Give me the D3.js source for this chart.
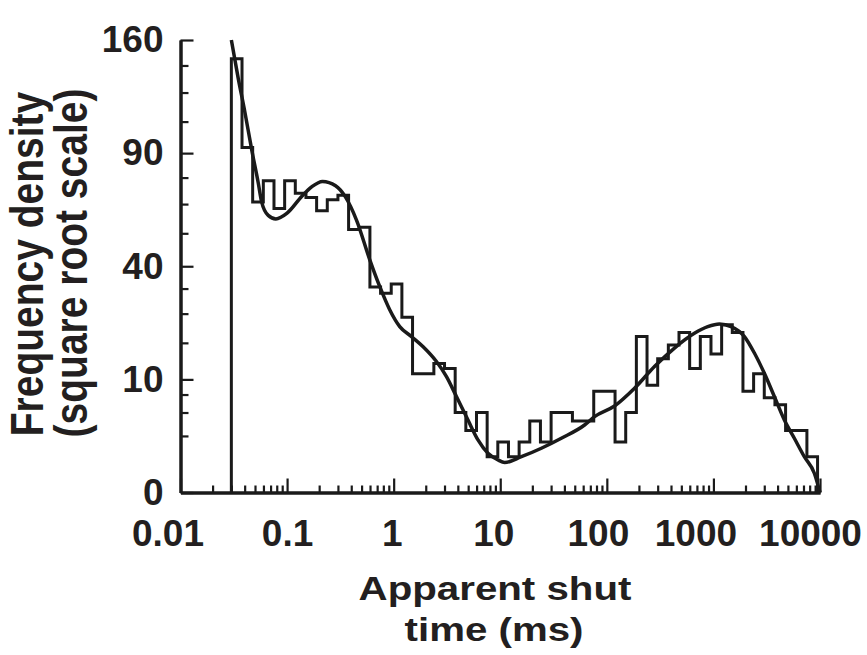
<!DOCTYPE html>
<html>
<head>
<meta charset="utf-8">
<script src="https://cdn.jsdelivr.net/npm/d3@7/dist/d3.min.js"></script>
<style>
  html, body { margin: 0; padding: 0; background: #ffffff; }
  svg { display: block; }
  text { font-family: "Liberation Sans", Arial, sans-serif; font-weight: bold; fill: #231f20; }
</style>
</head>
<body>
<svg id="chart" width="867" height="655"></svg>
<script>
// ---- data ----
const xTickValues = [0.01, 0.1, 1, 10, 100, 1000, 10000];
const xTickLabels = ["0.01", "0.1", "1", "10", "100", "1000", "10000"];
const yTickValues = [0, 10, 40, 90, 160];
const yTickLabels = ["0", "10", "40", "90", "160"];
const yMinorTicks = [2.5, 5, 7.5, 17.5, 25, 32.5, 52.5, 65, 77.5, 107.5, 125, 142.5];

// histogram: first bin starts at 0.03 ms, bins 0.1 log10 units wide
const binStart = 0.03;
const binLogWidth = 0.1;
const binValues = [147, 93, 66, 76, 63, 76, 70, 68, 62, 67,
                   69, 54, 55, 33, 31, 34, 24, 11, 11, 13,
                   12, 5, 3, 5, 1, 2, 1, 2, 4, 2,
                   5, 5, 4, 4, 8, 8, 2, 5, 19, 9,
                   14, 17, 20, 12, 19, 15, 22, 20, 8, 11,
                   7, 6, 3, 3, 1];

// fitted curve
const fitX = [0.03, 0.0348, 0.0402, 0.0465, 0.0536, 0.0577, 0.0665, 0.0785, 0.1, 0.137,
              0.17, 0.215, 0.285, 0.35, 0.448, 0.597, 0.741, 0.918, 1.14, 1.47,
              1.89, 2.52, 3.13, 3.88, 4.98, 6.18, 7.67, 9.51, 11, 15.8,
              24.3, 37.4, 61.8, 76.7, 118, 182, 280, 431, 663, 885,
              1138, 1466, 1954, 2423, 3006, 3730, 4632, 5745, 7129, 8846, 10000];
const fitY = [160, 134, 113, 92, 75, 66, 60, 58.5, 61, 68.5,
              73, 75.6, 73.5, 68.5, 58, 42.3, 33.1, 26.1, 21.5, 19.0,
              16.6, 13.4, 10.5, 7.2, 4.1, 2.16, 1.2, 0.83, 0.7, 1.0,
              1.53, 2.3, 3.56, 4.5, 5.85, 8.5, 12.4, 16.3, 19.8, 21.5,
              22.2, 21.5, 19.0, 15.2, 11.1, 7.2, 4.1, 2.3, 1.0, 0.29, 0];

const xTitle = ["Apparent shut", "time (ms)"];
const yTitle = ["Frequency density", "(square root scale)"];

// ---- layout (label nudges as in the original figure) ----
const xLabelNudge = [-13, 0, -2, -7, -9, -18, -10];

// ---- drawing ----
const svg = d3.select("#chart");
const ink = "#1a1a1a";

const x = d3.scaleLog().domain([0.01, 10000]).range([180.5, 820]);
const y = d3.scaleSqrt().domain([0, 160]).range([492.5, 40]);

// minor x ticks
const xMinor = [];
for (let e = -2; e < 4; e++) {
  for (let m = 2; m <= 9; m++) xMinor.push(m * Math.pow(10, e));
}

const gx = svg.append("g").attr("transform", `translate(0,${y(0)})`);
gx.call(d3.axisBottom(x).tickValues(xMinor).tickSize(-7).tickSizeOuter(0).tickFormat(""));
gx.append("g").call(d3.axisBottom(x).tickValues(xTickValues).tickSize(-14).tickSizeOuter(0)
   .tickPadding(27).tickFormat((d, i) => xTickLabels[i]));
gx.selectAll("path.domain").attr("stroke", ink).attr("stroke-width", 3);
gx.selectAll(".tick line").attr("stroke", ink).attr("stroke-width", 2.2);
gx.selectAll(".tick text").attr("font-size", 37).attr("fill", "#231f20")
  .attr("font-family", "Liberation Sans, Arial, sans-serif").attr("font-weight", "bold")
  .attr("dx", (d, i) => xLabelNudge[xTickValues.indexOf(d)] || 0);

const gy = svg.append("g").attr("transform", `translate(${x(0.01)},0)`);
gy.call(d3.axisLeft(y).tickValues(yMinorTicks).tickSize(-8).tickSizeOuter(0).tickFormat(""));
gy.append("g").call(d3.axisLeft(y).tickValues(yTickValues).tickSize(-13).tickSizeOuter(0)
   .tickPadding(17).tickFormat((d, i) => yTickLabels[i]));
gy.selectAll("path.domain").attr("stroke", ink).attr("stroke-width", 3);
gy.selectAll(".tick line").attr("stroke", ink).attr("stroke-width", 2.2);
gy.selectAll(".tick text").attr("font-size", 37).attr("fill", "#231f20")
  .attr("font-family", "Liberation Sans, Arial, sans-serif").attr("font-weight", "bold");

// histogram step outline
const edges = d3.range(binValues.length + 1).map(k => binStart * Math.pow(10, k * binLogWidth));
const pts = [[x(edges[0]), y(0)]];
binValues.forEach((v, i) => {
  pts.push([x(edges[i]), y(v)]);
  pts.push([x(edges[i + 1]), y(v)]);
});
pts.push([x(edges[edges.length - 1]), y(0)]);
svg.append("path")
  .attr("d", d3.line()(pts))
  .attr("fill", "none").attr("stroke", ink).attr("stroke-width", 3)
  .attr("stroke-linejoin", "miter");

// fitted curve
const fit = fitX.map((d, i) => [d, fitY[i]]);
svg.append("path")
  .attr("d", d3.line().x(d => x(d[0])).y(d => y(d[1])).curve(d3.curveMonotoneX)(fit))
  .attr("fill", "none").attr("stroke", ink).attr("stroke-width", 3.5);

// axis titles
const tx = svg.append("g");
tx.append("text").attr("transform", "translate(495,600) scale(1.22,1)")
  .attr("text-anchor", "middle").attr("font-size", 33).text(xTitle[0]);
tx.append("text").attr("transform", "translate(494,641) scale(1.22,1)")
  .attr("text-anchor", "middle").attr("font-size", 33).text(xTitle[1]);

const ty = svg.append("g");
ty.append("text").attr("transform", "translate(43,264) scale(1.2,1) rotate(-90)")
  .attr("text-anchor", "middle").attr("font-size", 39).text(yTitle[0]);
ty.append("text").attr("transform", "translate(87,263) scale(1.2,1) rotate(-90)")
  .attr("text-anchor", "middle").attr("font-size", 39).text(yTitle[1]);
</script>
</body>
</html>
